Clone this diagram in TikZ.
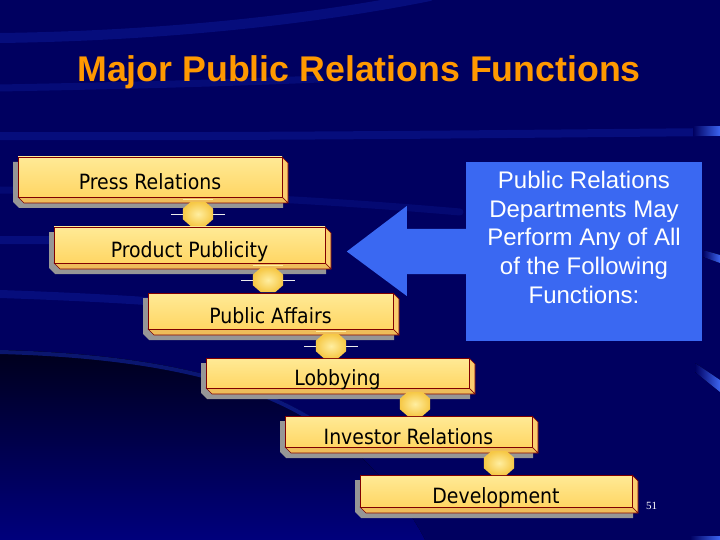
\documentclass[tikz,border=0pt]{standalone}
\usepackage{fontspec}
\setmainfont{Liberation Sans}
\newfontfamily\boxfont{DejaVu Sans Condensed}
\newfontfamily\numfont{Liberation Serif}
\usetikzlibrary{calc}

\definecolor{bgnavy}{RGB}{0,0,96}
\definecolor{bandblue}{RGB}{20,45,190}
\definecolor{brightblue}{RGB}{60,100,240}
\definecolor{prblue}{RGB}{58,104,242}
\definecolor{titleorange}{RGB}{255,153,0}
\definecolor{boxtop}{RGB}{255,234,150}
\definecolor{boxbot}{RGB}{255,214,100}
\definecolor{bevelR}{RGB}{250,205,110}
\definecolor{bevelB}{RGB}{238,188,90}
\definecolor{boxborder}{RGB}{128,0,0}
\definecolor{shadowgray}{RGB}{150,150,150}
\definecolor{hexin}{RGB}{255,238,160}
\definecolor{hexout}{RGB}{246,200,70}
\definecolor{darkzone}{RGB}{0,0,28}

\tikzset{
  prbox/.style={draw=boxborder, line width=0.9pt, top color=boxtop, bottom color=boxbot,
    font=\boxfont\fontsize{21}{25}\selectfont, text=black, inner sep=0pt,
    text height=25pt, text depth=0pt},
  bevelface/.style={draw=boxborder, line width=0.7pt, line join=round},
  shadowface/.style={fill=shadowgray},
  hexc/.style={rectangle, minimum width=30pt, minimum height=24pt, inner sep=0pt, draw=none},
  hexfill/.style={inner color=hexin, outer color=hexout},
  hexline/.style={draw=white!85!gray, line width=0.7pt},
  hextop/.style={draw=hexin, line width=0.9pt},
  band/.style={draw=bandblue, line cap=round, opacity=0.35},
  bluebox/.style={fill=prblue, inner sep=0pt, minimum width=236pt, minimum height=179pt,
    text=white, font=\fontsize{24}{28.7}\selectfont},
  titlestyle/.style={text=titleorange, font=\bfseries\fontsize{35.7}{40}\selectfont, inner sep=0pt, anchor=base},
  pagenum/.style={text=white, font=\numfont\fontsize{11}{13}\selectfont, inner sep=0pt, anchor=base}
}

\newcommand\PRbox[6]{%
  \fill[shadowface] (#2-5,#3+5) -- (#4-5,#3+5) -- (#4+1,#3+11) -- (#4+1,#5+11) -- (#2+1,#5+11) -- (#2-5,#5+5) -- cycle;
  \filldraw[bevelface, fill=bevelR] (#4,#3) -- (#4+6,#3+6) -- (#4+6,#5+6) -- (#4,#5) -- cycle;
  \filldraw[bevelface, fill=bevelB] (#2,#5) -- (#4,#5) -- (#4+6,#5+6) -- (#2+6,#5+6) -- cycle;
  \node[prbox, minimum width={(#4-#2)*1pt}, minimum height={(#5-#3)*1pt}] (#1) at ({(#2+#4)/2},{(#3+#5)/2}) {#6};
}

\begin{document}
\begin{tikzpicture}[x=1pt,y=-1pt]
\useasboundingbox (0,0) rectangle (720,540);
% background
\fill[bgnavy] (0,0) rectangle (720,540);
\fill[top color=darkzone, bottom color={rgb,255:red,0;green,0;blue,125}]
  (0,350) .. controls (150,354) and (260,378) .. (330,430) .. controls (380,470) and (410,510) .. (425,540) -- (0,540) -- cycle;
\draw[band, line width=4pt, opacity=0.5] (0,352) .. controls (150,356) and (260,380) .. (330,432);
% swoosh bands
\draw[band, line width=10pt, opacity=0.3] (0,38) .. controls (150,36) and (300,22) .. (430,-4);
\draw[band, line width=7pt, opacity=0.25] (0,88) .. controls (100,86) and (200,84) .. (320,79);
\draw[band, line width=8pt, opacity=0.3] (0,136) .. controls (250,137) and (500,134) .. (720,132);
\draw[band, line width=7pt, opacity=0.2] (0,190) .. controls (150,192) and (300,198) .. (460,212);
\draw[band, line width=8pt, opacity=0.3] (0,240) .. controls (60,240) and (120,241) .. (160,242);
\draw[band, line width=8pt, opacity=0.3] (0,294) .. controls (60,296) and (120,299) .. (160,302);
% bright ends at right edge
\fill[left color=bgnavy, right color=brightblue] (693,127) rectangle (720,136);
\fill[left color=bgnavy, right color=brightblue] (703,250) -- (720,255) -- (720,263) -- (703,257) -- cycle;
\fill[left color=bgnavy, right color=brightblue] (695,363) -- (720,380) -- (720,392) -- (695,372) -- cycle;
\fill[left color=bgnavy, right color=brightblue] (690,536) rectangle (720,540);

% title
\node[titlestyle] (title) at (359,82) {Major Public Relations Functions};

% boxes
\PRbox{press}{18}{157}{282}{197}{Press Relations}
\PRbox{product}{54}{227}{325}{263}{Product Publicity}
\PRbox{affairs}{148}{293}{393}{329}{Public Affairs}
\PRbox{lobby}{206}{358}{469}{388}{Lobbying}
\PRbox{investor}{285}{416}{532}{447}{Investor Relations}
\PRbox{develop}{360}{475}{632}{507}{Development}

% connectors between boxes
\node[hexc] (h1) at (198,214) {};
\node[hexc] (h2) at (268,280) {};
\node[hexc] (h3) at (331,346) {};
\node[hexc] (h4) at (415,404) {};
\node[hexc] (h5) at (499,463) {};
\foreach \h in {h1,h2,h3}{
  \draw[hexline] (\h.west) -- ++(-12,0);
  \draw[hexline] (\h.east) -- ++(12,0);
}
\foreach \h in {h1,h2,h3,h4,h5}{
  \shade[hexfill] ($(\h.north west)+(8,0)$) -- ($(\h.north east)+(-8,0)$) -- ($(\h.north east)+(0,7)$)
    -- ($(\h.south east)+(0,-7)$) -- ($(\h.south east)+(-8,0)$) -- ($(\h.south west)+(8,0)$)
    -- ($(\h.south west)+(0,-7)$) -- ($(\h.north west)+(0,7)$) -- cycle;
}
\foreach \h in {h1,h2,h3}{
  \draw[hextop] ([yshift=2pt]\h.north west) -- ([yshift=2pt]\h.north east);
}

% blue box and arrow
\node[bluebox] (pr) at (584,251.5) {\parbox[c][179pt][t]{236pt}{\centering\vspace*{9pt}Public Relations\\Departments May\\Perform Any of All\\of the Following\\Functions:}};
\fill[prblue] ($(pr.west)+(1,-22.5)$) -- ($(pr.west)+(-59,-22.5)$) -- ($(pr.west)+(-59,-45.5)$)
  -- ($(pr.west)+(-119,0)$) -- ($(pr.west)+(-59,44.5)$) -- ($(pr.west)+(-59,22.5)$) -- ($(pr.west)+(1,22.5)$) -- cycle;

% page number
\node[pagenum] (pnum) at (651.5,509) {51};
\end{tikzpicture}
\end{document}
